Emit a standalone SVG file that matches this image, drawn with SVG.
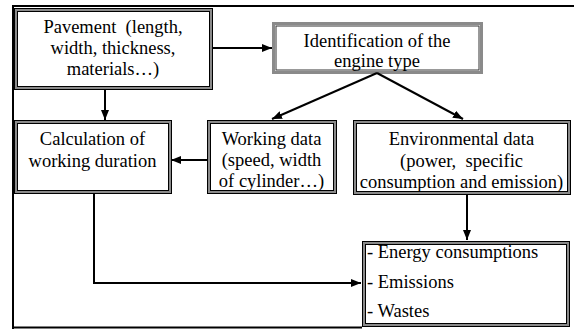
<svg xmlns="http://www.w3.org/2000/svg" width="574" height="329" viewBox="0 0 574 329">
<style>
text{font-family:'Liberation Serif','Times New Roman',serif;font-size:18.5px;fill:#000}
.c{text-anchor:middle}
.band{fill:none;stroke:#8a8a8a;stroke-width:3}
.ln{fill:none;stroke:#000;stroke-width:1}
.con{fill:none;stroke:#000;stroke-width:2}
</style>
<defs>
<marker id="ah" viewBox="0 0 10 8" refX="10" refY="4" markerWidth="10" markerHeight="8" markerUnits="userSpaceOnUse" orient="auto">
<path d="M0,0 L10,4 L0,8 Z" fill="#000"/>
</marker>
</defs>
<rect width="574" height="329" fill="#fff"/>
<g id="frame">
<path d="M13,329 V6 H574" fill="none" stroke="#000" stroke-width="2"/>
<path d="M13,327.5 H362" fill="none" stroke="#000" stroke-width="2"/>
</g>
<g id="pavement">
<rect x="15.5" y="9.5" width="196" height="79" class="band"/>
<rect x="14.5" y="8.5" width="198" height="81" class="ln"/>
<rect x="17.5" y="11.5" width="192" height="75" class="ln"/>
<text x="113" y="33" class="c" xml:space="preserve">Pavement  (length,</text>
<text x="113" y="54" class="c">width, thickness,</text>
<text x="113" y="75" class="c">materials…)</text>
</g>
<g id="identification">
<rect x="273.5" y="23.5" width="208" height="49" class="band"/>
<rect x="276" y="26" width="203" height="44" fill="none" stroke="#333" stroke-width="1"/>
<text x="377" y="47" class="c">Identification of the</text>
<text x="377" y="67" class="c">engine type</text>
</g>
<g id="calculation">
<rect x="15.5" y="121.5" width="155" height="71" class="band"/>
<rect x="14.5" y="120.5" width="157" height="73" class="ln"/>
<rect x="17.5" y="123.5" width="151" height="67" class="ln"/>
<text x="92.5" y="145" class="c">Calculation of</text>
<text x="92.5" y="167" class="c">working duration</text>
</g>
<g id="working">
<rect x="208.5" y="121.5" width="127" height="71" class="band"/>
<rect x="207.5" y="120.5" width="129" height="73" class="ln"/>
<rect x="210.5" y="123.5" width="123" height="67" class="ln"/>
<text x="271.5" y="145" class="c">Working data</text>
<text x="271.5" y="166" class="c">(speed, width</text>
<text x="271.5" y="187" class="c">of cylinder…)</text>
</g>
<g id="environmental">
<rect x="354.5" y="121.5" width="215" height="72" class="band"/>
<rect x="353.5" y="120.5" width="217" height="74" class="ln"/>
<rect x="356.5" y="123.5" width="211" height="68" class="ln"/>
<text x="461.5" y="145" class="c">Environmental data</text>
<text x="461.5" y="167" class="c" xml:space="preserve">(power,  specific</text>
<text x="461.5" y="188" class="c">consumption and emission)</text>
</g>
<g id="results">
<rect x="363.5" y="242.5" width="205" height="83" class="band"/>
<rect x="362.5" y="241.5" width="207" height="85" class="ln"/>
<rect x="365.5" y="244.5" width="201" height="79" class="ln"/>
<text x="367" y="258">- Energy consumptions</text>
<text x="367" y="288">- Emissions</text>
<text x="367" y="317">- Wastes</text>
</g>
<g id="connectors">
<line x1="212" y1="48" x2="272" y2="48" class="con" marker-end="url(#ah)"/>
<line x1="105" y1="90" x2="105" y2="120" class="con" marker-end="url(#ah)"/>
<line x1="377" y1="73" x2="272" y2="119" class="con" marker-end="url(#ah)"/>
<line x1="377" y1="73" x2="463" y2="119" class="con" marker-end="url(#ah)"/>
<line x1="207" y1="160" x2="171" y2="160" class="con" marker-end="url(#ah)"/>
<line x1="467" y1="195" x2="467" y2="240" class="con" marker-end="url(#ah)"/>
<polyline points="94,194 94,283 361,283" class="con" marker-end="url(#ah)"/>
</g>
</svg>
